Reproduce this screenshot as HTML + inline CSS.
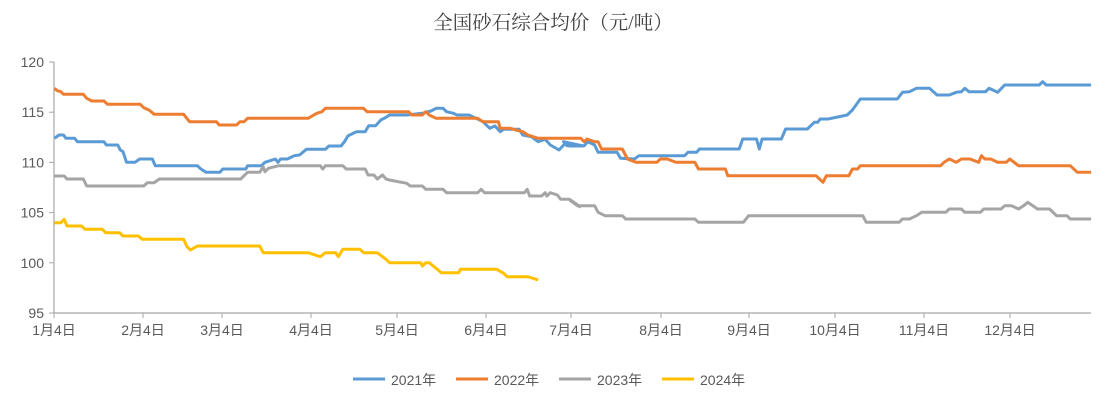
<!DOCTYPE html><html><head><meta charset="utf-8"><style>
body{margin:0;background:#fff;width:1107px;height:407px;overflow:hidden}
text{font-family:"Liberation Sans","Noto Sans CJK SC",sans-serif;fill:#595959}
</style></head><body>
<svg id="s" width="1107" height="407" xmlns="http://www.w3.org/2000/svg">
<text x="553" y="29" text-anchor="middle" style="font-size:19.5px;fill:#404040;font-family:'Liberation Serif','Noto Serif CJK SC',serif">全国砂石综合均价（元/吨）</text>
<g stroke="#a6a6a6" stroke-width="1.2">
<line x1="54" y1="62" x2="54" y2="313"/><line x1="54" y1="313" x2="1091" y2="313"/>
</g>
<g id="ax"></g>
<g fill="none" stroke-width="3" stroke-linejoin="round" id="ln"></g>
<g font-size="14">
<line x1="353" y1="379" x2="385" y2="379" stroke="#5b9bd5" stroke-width="3"/><text x="391" y="385" style="font-size:14px">2021年</text>
<line x1="456" y1="379" x2="488" y2="379" stroke="#ed7d31" stroke-width="3"/><text x="494" y="385" style="font-size:14px">2022年</text>
<line x1="559" y1="379" x2="591" y2="379" stroke="#a5a5a5" stroke-width="3"/><text x="597" y="385" style="font-size:14px">2023年</text>
<line x1="662" y1="379" x2="694" y2="379" stroke="#ffc000" stroke-width="3"/><text x="700" y="385" style="font-size:14px">2024年</text>
</g>
</svg>
<script>
var NS="http://www.w3.org/2000/svg",ax=document.getElementById("ax"),ln=document.getElementById("ln");
function el(t,a,p,txt){var e=document.createElementNS(NS,t);for(var k in a)e.setAttribute(k,a[k]);if(txt)e.textContent=txt;p.appendChild(e);}
[120,115,110,105,100,95].forEach(function(v){var y=262.8-(v-100)*10.04;el("line",{x1:49,x2:54,y1:y,y2:y,stroke:"#a6a6a6"},ax);el("text",{x:44,y:y+5,"text-anchor":"end",style:"font-size:14px"},ax,v);});
var mx=[54,143,222,311,397,486,571,661,749,835,924,1010];
mx.forEach(function(x,i){el("line",{x1:x,x2:x,y1:313,y2:318,stroke:"#a6a6a6"},ax);el("text",{x:x,y:335,"text-anchor":"middle",style:"font-size:14px"},ax,(i+1)+"月4日");});
function z1(a){var r=[];for(var i=0;i<a.length;i+=2)r.push((40+a[i]*0.346).toFixed(1)+","+(60+a[i+1]/3).toFixed(1));return r;}
function z2(a){var r=[];for(var i=0;i<a.length;i+=2)r.push((560+a[i]*0.346).toFixed(1)+","+(60+a[i+1]/3).toFixed(1));return r;}
function pl(pts,c){el("polyline",{points:pts.join(" "),stroke:c},ln);}
pl(z1([42,235,55,225,68,225,75,235,100,235,108,245,185,245,192,255,225,255,232,270,240,275,250,307,275,307,288,297,325,297,333,317,455,317,465,327,480,337,520,337,528,327,595,327,600,317,640,317,650,307,665,302,680,297,688,307,695,297,715,297,735,287,750,285,770,268,825,268,835,258,870,258,880,245,890,228,905,220,915,215,940,215,950,197,970,197,985,180,1000,172,1010,165,1060,165,1105,160,1130,153,1145,145,1165,145,1175,155,1195,160,1205,165,1240,165,1260,175,1280,185,1300,205,1315,198,1330,215,1340,208,1385,208,1395,225,1420,230,1440,245,1460,238,1475,255,1500,270,1520,248,1530,258,1570,258]).concat(z2([10,245,20,257,70,257,80,245,100,255,110,277,165,277,175,295,215,297,228,287,360,287,370,277,395,277,403,267,518,267,528,237,568,237,576,267,584,237,640,237,652,207,715,207,735,187,745,187,752,177,775,177,830,165,845,150,868,117,975,117,990,97,1010,95,1030,85,1068,85,1090,105,1125,105,1145,97,1160,95,1170,85,1182,95,1230,95,1240,85,1265,97,1285,75,1385,75,1395,65,1405,75,1535,75])),"#5b9bd5");
pl(z1([42,85,50,92,60,95,68,103,125,103,135,115,150,123,185,123,195,133,290,133,300,143,315,150,330,163,415,163,432,185,510,185,518,195,568,195,578,185,590,185,600,175,775,175,800,160,815,155,825,145,935,145,945,155,1065,155,1075,165,1105,165,1115,155,1125,165,1145,175,1265,175,1280,185,1325,185,1330,205,1360,205,1375,210,1395,215,1410,225,1440,235,1560,235]).concat(z2([0,235,60,235,70,245,78,237,100,245,110,245,120,267,180,267,195,297,220,307,280,307,290,297,310,297,335,307,390,307,400,327,478,327,485,347,740,347,760,367,770,347,835,347,845,327,860,327,868,317,1100,317,1110,307,1125,297,1145,307,1160,297,1185,297,1210,307,1218,287,1228,297,1245,297,1265,307,1290,307,1300,297,1325,317,1475,317,1495,337,1535,337])),"#ed7d31");
pl(z1([42,348,70,348,78,357,125,357,135,378,300,378,310,368,330,368,345,357,580,357,600,337,635,337,645,320,650,335,660,325,690,317,810,317,817,327,825,317,875,317,885,327,940,327,948,345,965,345,975,357,990,345,1000,357,1010,360,1060,370,1070,378,1105,378,1115,388,1165,388,1175,398,1265,398,1275,388,1285,398,1400,398,1408,388,1415,408,1450,408,1460,398,1465,408,1475,398,1495,405,1505,418,1530,418,1545,428,1560,440]).concat(z2([30,422,50,437,100,437,110,457,130,467,180,467,190,477,390,477,400,487,530,487,545,467,875,467,885,487,980,487,990,477,1010,477,1030,467,1045,457,1115,457,1125,447,1160,447,1170,457,1215,457,1225,447,1275,447,1285,437,1305,437,1325,447,1340,437,1352,427,1380,447,1415,447,1435,467,1465,467,1475,477,1535,477])),"#a5a5a5");
pl(z1([42,488,60,488,70,478,78,498,120,498,130,508,180,508,190,518,230,518,240,528,285,528,295,538,415,538,425,560,435,570,455,558,635,558,645,578,775,578,810,590,825,578,855,578,862,590,875,568,925,568,935,578,975,578,1000,598,1010,608,1100,608,1105,618,1115,608,1125,608,1160,638,1210,638,1215,628,1320,628,1340,640,1350,650,1410,650,1440,660]),"#ffc000");
</script>
</body></html>
